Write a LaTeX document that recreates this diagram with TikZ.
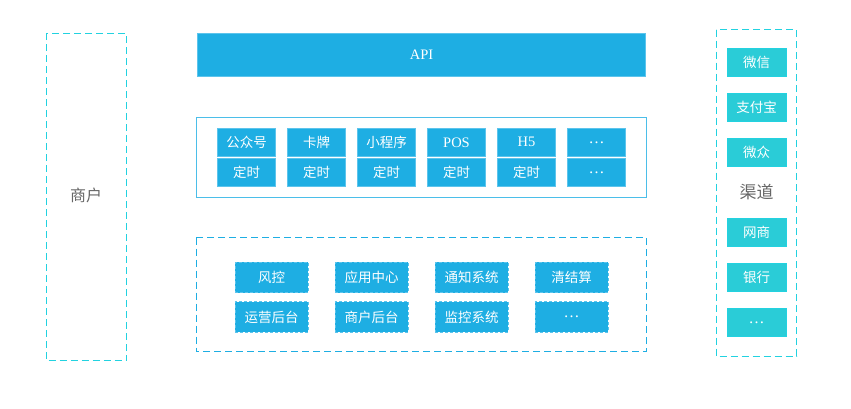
\documentclass[tikz,border=0pt]{standalone}
\usepackage{fontspec}
\setmainfont{Noto Sans CJK SC}
\newfontfamily\lat{Liberation Serif}
\usepackage{tikz}
\usetikzlibrary{positioning}

\definecolor{apiblue}{HTML}{1EAEE3}
\definecolor{cellline}{HTML}{5CC4EC}
\definecolor{chanteal}{HTML}{2ACCD7}
\definecolor{chanline}{HTML}{22D2E0}
\definecolor{labelgray}{HTML}{666666}

\tikzset{
    outerbox/.style={line width=1pt, draw=chanline, dash pattern=on 7pt off 4pt},
    latintext/.style={font=\lat\fontsize{14.5}{16}\selectfont},
    dotstext/.style={font=\lat\fontsize{16}{18}\selectfont},
    svcbox/.style={rectangle, inner sep=0pt, minimum width=58.5pt, minimum height=28pt,
        fill=apiblue, draw=cellline, line width=0.8pt, text=white, font=\fontsize{13.5}{15}\selectfont},
    modbox/.style={rectangle, inner sep=0pt, minimum width=73pt, minimum height=30.5pt,
        fill=apiblue, draw=cellline, line width=1pt, dash pattern=on 3pt off 2pt,
        text=white, font=\fontsize{13.5}{15}\selectfont},
    chanbox/.style={rectangle, inner sep=0pt, minimum width=58.5pt, minimum height=28.4pt,
        fill=chanteal, draw=chanline, line width=0.6pt, text=white, font=\fontsize{13.5}{15}\selectfont}
}

\begin{document}
\begin{tikzpicture}[x=1pt,y=-1pt]
    \useasboundingbox (0,0) rectangle (851,408);

    % merchant side
    \draw[outerbox] (46,33) rectangle (126.5,360.5);
    \node[text=labelgray, font=\fontsize{16}{18}\selectfont] (merchant) at (86,195) {商户};

    % api layer
    \node[rectangle, inner sep=0pt, minimum width=448.5pt, minimum height=43.5pt,
        fill=apiblue, draw=cellline, line width=0.8pt, text=white,
        latintext] (api) at (421.5,55) {API};

    % access layer
    \draw[line width=1pt, draw=apiblue!80] (196,117.5) rectangle (646.5,197);
    \node[svcbox] (gzh)   at (246.5,142.3) {公众号};
    \node[svcbox] (card)  at (316.5,142.3) {卡牌};
    \node[svcbox] (mini)  at (386.5,142.3) {小程序};
    \node[svcbox, latintext] (pos) at (456.5,142.3) {POS};
    \node[svcbox, latintext] (hfive) at (526.5,142.3) {H5};
    \node[svcbox, dotstext] (more) at (596.5,142.3) {\ldots};
    \node[svcbox] (gzhtimer)   at (246.5,172.3) {定时};
    \node[svcbox] (cardtimer)  at (316.5,172.3) {定时};
    \node[svcbox] (minitimer)  at (386.5,172.3) {定时};
    \node[svcbox] (postimer)   at (456.5,172.3) {定时};
    \node[svcbox] (hfivetimer) at (526.5,172.3) {定时};
    \node[svcbox, dotstext] (moretimer) at (596.5,172.3) {\ldots};

    % platform layer
    \draw[line width=1pt, draw=apiblue, dash pattern=on 7pt off 4pt] (196,237.5) rectangle (646.5,351.5);
    \node[modbox] (risk)    at (271.5,277.5) {风控};
    \node[modbox] (appcen)  at (371.5,277.5) {应用中心};
    \node[modbox] (notify)  at (471.5,277.5) {通知系统};
    \node[modbox] (settle)  at (571.5,277.5) {清结算};
    \node[modbox] (ops)     at (271.5,317.2) {运营后台};
    \node[modbox] (mchadm)  at (371.5,317.2) {商户后台};
    \node[modbox] (monitor) at (471.5,317.2) {监控系统};
    \node[modbox, dotstext] (modmore) at (571.5,317.2) {\ldots};

    % channel side
    \draw[outerbox] (716,29.5) rectangle (796.5,356);
    \node[chanbox] (wechat) at (756.7,62.5)  {微信};
    \node[chanbox] (alipay) at (756.7,107.5) {支付宝};
    \node[chanbox] (webank) at (756.7,152.5) {微众};
    \node[text=labelgray, font=\fontsize{17}{19}\selectfont] (channel) at (756.7,192) {渠道};
    \node[chanbox] (mybank) at (756.7,232.5) {网商};
    \node[chanbox] (bank)   at (756.7,277.5) {银行};
    \node[chanbox, dotstext] (chanmore) at (756.7,322.5) {\ldots};

\end{tikzpicture}
\end{document}
